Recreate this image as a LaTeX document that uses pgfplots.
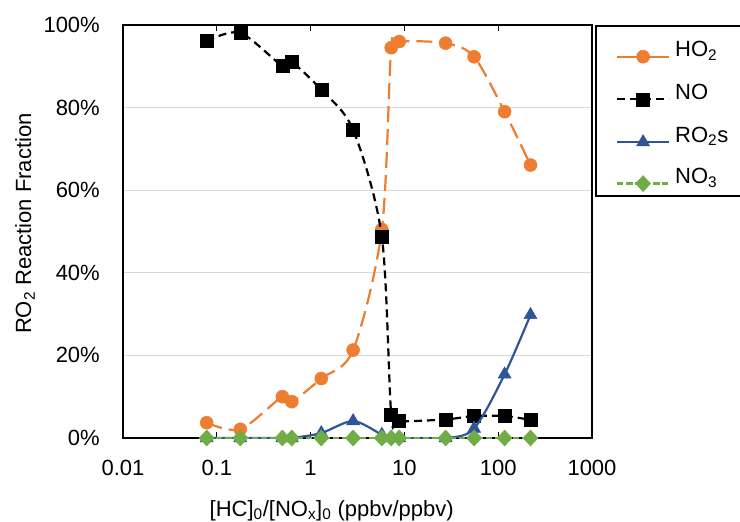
\documentclass[border=0pt]{standalone}
\usepackage{fontspec}
\setmainfont{Liberation Sans}
\usepackage{pgfplots}
\pgfplotsset{compat=1.18}
\definecolor{cHO}{HTML}{ED7D31}
\definecolor{cRO}{HTML}{2F5597}
\definecolor{cNT}{HTML}{70AD47}
\newcommand{\fs}{\fontsize{22bp}{26bp}\selectfont}
\pgfplotsset{
  myimg/.style={legend image code/.code={\draw[mark repeat=2,mark phase=2,##1] plot coordinates {(0bp,0bp)(26bp,0bp)(52bp,0bp)};}},
  solidimg/.style={legend image code/.code={\draw[mark repeat=2,mark phase=2,##1,solid] plot coordinates {(0bp,0bp)(26bp,0bp)(52bp,0bp)};}},
}
\begin{document}
\fs
\begin{tikzpicture}
\begin{axis}[
  at={(0,0)}, anchor=south west,
  scale only axis, width=469bp, height=413bp,
  xmode=log, log basis x=10, xmin=0.01, xmax=1000, ymin=0, ymax=100,
  xtick={0.01,0.1,1,10,100,1000}, xticklabels={0.01,0.1,1,10,100,1000},
  xminorticks=false,
  ytick={0,20,40,60,80,100}, yticklabels={0\%,20\%,40\%,60\%,80\%,100\%},
  ymajorgrids, grid style={draw=black!15, line width=1.2bp},
  axis line style={line width=2.2bp},
  tick align=inside, major tick length=6bp,
  xtick style={black, line width=1.2bp},
  ytick style={draw=none},
  tick label style={font=\fs},
  xticklabel style={anchor=base, inner sep=0pt, yshift=-37bp},
  yticklabel style={anchor=east, inner sep=0pt, xshift=-23bp},
  label style={font=\fs},
  ylabel={RO\textsubscript{2} Reaction Fraction},
  ylabel style={at={(axis description cs:-0.209,0.519)}, anchor=center},
  xlabel={[HC]\textsubscript{0}/[NO\textsubscript{x}]\textsubscript{0} (ppbv/ppbv)},
  xlabel style={at={(axis description cs:0.445,0)}, anchor=base, yshift=-78bp},
  clip mode=individual,
  myimg,
  legend style={at={(axis description cs:1,1)}, anchor=north west, xshift=3bp,
    draw=black, line width=2bp, fill=white, inner xsep=20bp, inner ysep=4bp,
    font=\fs, row sep=9.5bp, column sep=5bp,
    nodes={inner sep=0pt, text width=80bp, text height=26.7bp, text depth=5.3bp},
    cells={anchor=base west}},
]
\addplot[cHO, line width=2.2bp, dash pattern=on 16bp off 7bp, smooth,
  mark=*, mark size=6.5bp, mark options={solid, fill=cHO, draw=cHO, line width=0.5bp}, solidimg]
coordinates {(0.078,3.7)(0.178,2.1)(0.50,10.0)(0.63,8.8)(1.30,14.4)(2.84,21.3)(5.75,50.5)(7.24,94.5)(8.81,96.0)(27.5,95.6)(55.3,92.3)(117,79.0)(221,66.1)};
\addlegendentry{HO\textsubscript{2}}
\addplot[black, line width=2.2bp, dash pattern=on 8bp off 5bp, smooth,
  mark=square*, mark size=6.5bp, mark options={solid, fill=black, draw=black, line width=0.5bp}]
coordinates {(0.078,96.1)(0.178,98.1)(0.50,90.1)(0.63,91.0)(1.30,84.3)(2.84,74.6)(5.75,48.7)(7.24,5.7)(8.81,4.1)(27.5,4.5)(55.3,5.3)(117,5.3)(221,4.4)};
\addlegendentry{NO}
\addplot[cRO, line width=2.2bp, solid, smooth,
  mark=triangle*, mark size=7.5bp, mark options={solid, fill=cRO, draw=cRO, line width=0.5bp}]
coordinates {(0.078,0)(0.178,0)(0.50,0)(0.63,0)(1.30,1.2)(2.84,4.1)(5.75,0.8)(7.24,0)(8.81,0)(27.5,0)(55.3,2.3)(117,15.4)(221,29.8)};
\addlegendentry{RO\textsubscript{2}s}
\addplot[cNT, line width=2.2bp, dash pattern=on 6bp off 3bp, smooth,
  mark=diamond*, mark size=8bp, mark options={solid, fill=cNT, draw=cNT, line width=0.5bp, xscale=1.25}]
coordinates {(0.078,0)(0.178,0)(0.50,0)(0.63,0)(1.30,0)(2.84,0)(5.75,0)(7.24,0)(8.81,0)(27.5,0)(55.3,0)(117,0)(221,0)};
\addlegendentry{NO\textsubscript{3}}
\end{axis}
\pgfresetboundingbox
\path[use as bounding box] (-123bp,-84bp) rectangle (617bp,438bp);
\end{tikzpicture}
\end{document}
